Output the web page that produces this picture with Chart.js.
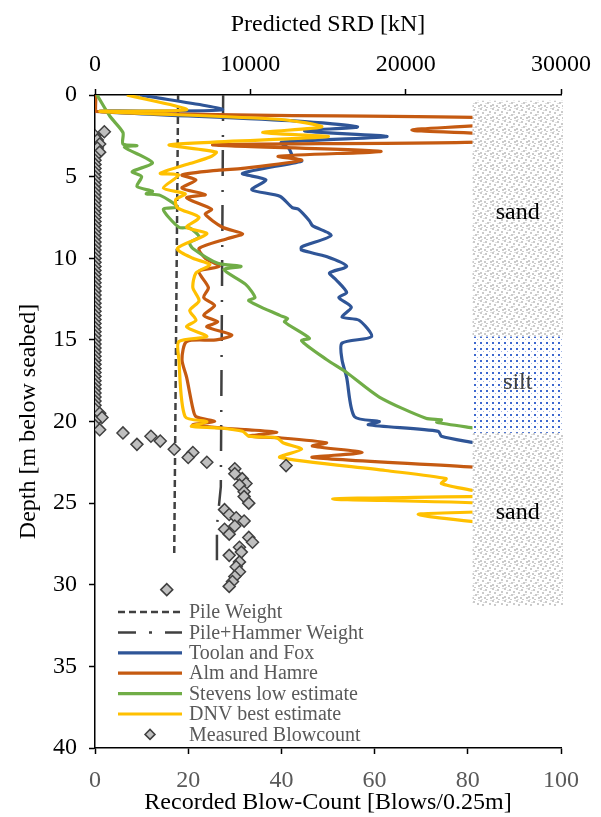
<!DOCTYPE html>
<html lang="en">
<head>
  <meta charset="UTF-8">
  <title>Predicted SRD and recorded blow-count</title>
  <script src="https://cdn.jsdelivr.net/npm/chart.js"></script>
  <style>
    html, body { margin: 0; padding: 0; background: #fff; }
  </style>
</head>
<body>
<canvas id="srdChart" width="601" height="817"></canvas>

<script>
  // Toolan and Fox
  const tfDepth = [0, 0.9, 1.0, 1.6, 1.95, 2.2, 2.55, 2.9, 3.3, 3.9, 4.05, 4.8, 5.2, 5.8, 6.2, 6.9, 7.0, 7.7, 8.0, 8.6,
    9.3, 9.5, 9.9, 10.5, 10.9, 11.3, 12.1, 12.4, 13.0, 13.6, 13.8, 14.8, 15.2, 16.2, 17.3, 19.7, 20.0, 20.2, 20.6, 20.9, 21.3, 21.6];
  const tfSRD = [2900, 8200, 320, 13000, 16900, 13500, 18800, 12000, 12500, 12800, 13300, 9500, 11000, 10100, 11900, 12700, 13100, 13800, 14000, 15200,
    13300, 13300, 14900, 16200, 15100, 15500, 16200, 15700, 16500, 15900, 17000, 17800, 15900, 15900, 16200, 16700, 18300, 17600, 22100, 22300, 24400, 26000];

  // Alm and Hamre
  const ahDepth = [0, 1.0, 1.4, 1.75, 2.15, 2.45, 2.85, 3.05, 3.45, 3.75, 4.0, 4.5, 4.6, 4.9, 5.2, 5.7, 6.1, 6.3, 7.0, 7.3,
    8.1, 8.5, 8.8, 9.4, 10.0, 10.5, 10.8, 11.8, 12.4, 12.9, 13.5, 13.9, 14.2, 14.7, 15.0, 15.1, 16.2, 17.3, 19.2, 19.7,
    20.0, 20.2, 20.4, 20.5, 20.65, 20.9, 21.0, 21.3, 21.5, 21.9, 22.2, 22.8, 23.0];
  const ahSRD = [60, 60, 26000, 26000, 20400, 26000, 26000, 7600, 18400, 11800, 13300, 9500, 8000, 5600, 6500, 5600, 7100, 5900, 7500, 7100,
    8200, 9500, 8500, 6700, 7100, 8000, 6700, 7300, 7000, 7700, 7000, 7900, 7200, 8800, 7800, 5900, 5600, 5900, 6300, 6500,
    7700, 6300, 8200, 9700, 11700, 9900, 11900, 14900, 14000, 17200, 14000, 24400, 26000];

  // Stevens low estimate
  const svDepth = [0, 1.3, 2.3, 3.0, 3.1, 3.2, 4.15, 4.7, 5.0, 5.6, 5.9, 6.05, 6.15, 6.85, 7.0, 8.1, 8.15, 8.7, 9.05, 9.4,
    10.3, 10.5, 10.7, 11.6, 12.4, 12.6, 13.5, 13.7, 13.9, 14.9, 15.05, 16.2, 17.0, 18.5, 19.8, 19.9, 20.05, 20.4, 20.6];
  const svSRD = [130, 960, 1800, 1800, 2700, 1900, 3700, 2400, 3000, 2700, 3700, 3300, 4200, 5300, 4400, 5400, 6100, 6700, 6100, 6300,
    7900, 9400, 8300, 9700, 10300, 9900, 11900, 12400, 12200, 13800, 13300, 14900, 16200, 18300, 21300, 22300, 22000, 24400, 26000];

  // DNV best estimate
  const dnvDepth = [0, 0.9, 1.0, 1.5, 1.95, 2.3, 2.55, 3.05, 3.5, 3.8, 4.2, 4.8, 4.9, 5.7, 6.05, 6.4, 6.9, 7.5, 8.1, 8.5,
    9.4, 10.0, 10.4, 10.9, 11.8, 12.6, 13.2, 13.8, 14.2, 14.8, 15.1, 16.2, 19.7, 20.0, 20.3, 20.4, 20.6, 20.9, 21.0, 21.3,
    21.7, 22.2, 23.0, 23.5, 23.8, 24.2, 24.45, 24.55, 24.75, 25.05, 25.45, 25.7, 26.35, 26.6];
  const dnvSRD = [2050, 5900, 320, 12000, 14600, 10800, 15000, 4800, 7800, 7400, 6100, 4200, 5400, 4400, 5800, 5200, 5300, 6700, 5900, 7200,
    5300, 6300, 7400, 6500, 6300, 6700, 6100, 6500, 5900, 7200, 5400, 5400, 5800, 7200, 6200, 8000, 9500, 9900, 11700, 12100,
    13300, 11900, 18700, 22600, 22300, 24200, 26000, 26000, 15300, 26000, 26000, 20800, 26000, 26000];

  // pile weight and pile + hammer weight
  const pwDepth = [0, 28.2];
  const pwSRD = [5350, 5100];
  const phDepth = [0, 24.0, 26.4, 28.5];
  const phSRD = [8250, 8100, 7850, 7850];

  // measured blow-count
  const mbDepth = [2.25, 2.5, 2.75, 3.0, 3.25, 3.5, 3.75, 4.0, 4.25, 4.5, 4.75, 5.0, 5.25, 5.5, 5.75, 6.0, 6.25, 6.5, 6.75, 7.0,
    7.25, 7.5, 7.75, 8.0, 8.25, 8.5, 8.75, 9.0, 9.25, 9.5, 9.75, 10.0, 10.25, 10.5, 10.75, 11.0, 11.25, 11.5, 11.75, 12.0,
    12.25, 12.5, 12.75, 13.0, 13.25, 13.5, 13.75, 14.0, 14.25, 14.5, 14.75, 15.0, 15.25, 15.5, 15.75, 16.0, 16.25, 16.5, 16.75, 17.0,
    17.25, 17.5, 17.75, 18.0, 18.25, 18.5, 18.75, 19.0, 19.25, 19.5, 19.75, 20.0, 20.25, 20.5,
    20.7, 20.9, 21.2, 21.4, 21.7, 21.9, 22.2, 22.5, 22.7, 22.9, 23.2, 23.5, 23.8, 23.9, 24.3, 24.6, 25.0, 25.4, 25.7, 25.9,
    26.1, 26.4, 26.6, 26.9, 27.1, 27.4, 27.7, 28.0, 28.2, 28.6, 28.9, 29.2, 29.5, 29.8, 30.1, 30.3];
  const mbCount = [2.0, 0, 0.5, 1.0, 0.5, 1.0, 0, 0, 0, 0, 0, 0, 0, 0, 0, 0, 0, 0, 0, 0,
    0, 0, 0, 0, 0, 0, 0, 0, 0, 0, 0, 0, 0, 0, 0, 0, 0, 0, 0, 0,
    0, 0, 0, 0, 0, 0, 0, 0, 0, 0, 0, 0, 0, 0, 0, 0, 0, 0, 0, 0,
    0, 0, 0, 0, 0, 0, 0, 0, 0, 1.0, 1.5, 0, 0, 1.0,
    6, 12, 14, 9, 17, 21, 20, 24, 41, 30, 30, 31.6, 32.4, 31, 32, 32, 33, 27.8, 28.8, 30.3,
    32, 30, 27.8, 28.8, 33, 33.8, 31, 31.4, 28.8, 31, 30.3, 31, 30, 29.5, 28.8, 15.4];

  // soil column
  const soilNames = ['sand', 'silt', 'sand'];
  const soilTop = [0.35, 14.8, 20.7];
  const soilBottom = [14.8, 20.7, 31.3];
  const soilLabelDepth = [7.2, 17.6, 25.6];
  const soilFrom = 24300, soilTo = 30000;

  const legendLabels = ['Pile Weight', 'Pile+Hammer Weight', 'Toolan and Fox', 'Alm and Hamre',
    'Stevens low estimate', 'DNV best estimate', 'Measured Blowcount'];

  const serif = '"Liberation Serif", "Times New Roman", serif';
  const pts = (xs, ys) => xs.map((v, i) => ({ x: v, y: ys[i] }));

  function makePattern(kind) {
    const c = document.createElement('canvas');
    const g = c.getContext('2d');
    if (kind === 'sand') {
      c.width = 12; c.height = 12;
      g.fillStyle = '#fff'; g.fillRect(0, 0, 12, 12);
      g.fillStyle = '#cbcbcb';
      [[0, 0], [5, 1], [9, 3], [2, 4], [7, 6], [0, 8], [4, 9], [10, 9], [6, 11]].forEach(p => g.fillRect(p[0], p[1], 2, 2));
      g.fillStyle = '#e0e0e0';
      [[3, 2], [10, 0], [5, 7], [1, 11], [9, 6]].forEach(p => g.fillRect(p[0], p[1], 2, 1));
    } else {
      c.width = 6; c.height = 6;
      g.fillStyle = '#fff'; g.fillRect(0, 0, 6, 6);
      g.fillStyle = '#3d68cf'; g.fillRect(0, 0, 2, 2);
      g.fillStyle = '#9fb5e6'; g.fillRect(3, 3, 1, 1);
    }
    return c;
  }

  const soilPlugin = {
    id: 'soilColumn',
    afterDatasetsDraw(chart) {
      const { ctx, scales } = chart;
      const x2 = scales.x2, y = scales.y;
      const left = x2.getPixelForValue(soilFrom), right = x2.getPixelForValue(soilTo) + 2;
      ctx.save();
      soilNames.forEach((name, i) => {
        const top = y.getPixelForValue(soilTop[i]);
        const bot = y.getPixelForValue(soilBottom[i]);
        ctx.fillStyle = ctx.createPattern(makePattern(name), 'repeat');
        ctx.fillRect(left, top, right - left, bot - top);
      });
      ctx.font = '24px ' + serif;
      ctx.textAlign = 'center';
      ctx.textBaseline = 'middle';
      soilNames.forEach((name, i) => {
        ctx.fillStyle = name === 'silt' ? '#404040' : '#000';
        ctx.fillText(name, (left + right) / 2, y.getPixelForValue(soilLabelDepth[i]));
      });
      ctx.restore();
    }
  };

  const legendPlugin = {
    id: 'insideLegend',
    afterDraw(chart) {
      const { ctx, chartArea } = chart;
      const x0 = chartArea.left + 23, x1 = x0 + 64, tx = x1 + 7;
      const y0 = chartArea.bottom - 136;
      ctx.save();
      ctx.font = '20px ' + serif;
      ctx.textBaseline = 'middle';
      legendLabels.forEach((label, i) => {
        const ds = chart.data.datasets.find(d => d.label === label);
        const yy = y0 + i * 20.4;
        if (ds.showLine) {
          ctx.strokeStyle = ds.borderColor;
          ctx.lineWidth = ds.borderWidth;
          ctx.setLineDash(label === 'Pile+Hammer Weight' ? [18, 13, 3, 13] : (ds.borderDash || []));
          ctx.beginPath();
          ctx.moveTo(x0, yy);
          ctx.lineTo(x1, yy);
          ctx.stroke();
        } else {
          ctx.setLineDash([]);
          const cx = (x0 + x1) / 2, r = 5;
          ctx.beginPath();
          ctx.moveTo(cx, yy - r); ctx.lineTo(cx + r, yy); ctx.lineTo(cx, yy + r); ctx.lineTo(cx - r, yy); ctx.closePath();
          ctx.fillStyle = ds.backgroundColor; ctx.fill();
          ctx.strokeStyle = ds.borderColor; ctx.lineWidth = ds.borderWidth; ctx.stroke();
        }
        ctx.fillStyle = '#595959';
        ctx.fillText(label, tx, yy + 1);
      });
      ctx.restore();
    }
  };

  const srdLine = (label, color, xs, ys) => ({
    label, data: pts(ys, xs), xAxisID: 'x2', yAxisID: 'y',
    showLine: true, borderColor: color, borderWidth: 3.2, pointRadius: 0, tension: 0.25, fill: false
  });

  const datasets = [
    {
      label: 'Measured Blowcount', data: pts(mbCount, mbDepth), xAxisID: 'x', yAxisID: 'y',
      showLine: false, pointStyle: 'rectRot', pointRadius: 6, backgroundColor: '#bfbfbf',
      borderColor: '#404040', borderWidth: 1.5
    },
    srdLine('DNV best estimate', '#FFC000', dnvDepth, dnvSRD),
    srdLine('Stevens low estimate', '#70AD47', svDepth, svSRD),
    srdLine('Alm and Hamre', '#C55A11', ahDepth, ahSRD),
    srdLine('Toolan and Fox', '#2F5597', tfDepth, tfSRD),
    Object.assign(srdLine('Pile+Hammer Weight', '#404040', phDepth, phSRD), { borderWidth: 2.5, borderDash: [26, 14, 2, 13], tension: 0 }),
    Object.assign(srdLine('Pile Weight', '#404040', pwDepth, pwSRD), { borderWidth: 2.5, borderDash: [7, 4], tension: 0 })
  ];

  const axisGrid = { drawOnChartArea: false, color: '#000', tickLength: 6, tickWidth: 1.5 };
  const axisBorder = { color: '#000', width: 1.5 };

  new Chart(document.getElementById('srdChart').getContext('2d'), {
    type: 'scatter',
    data: { datasets },
    options: {
      responsive: false,
      animation: false,
      devicePixelRatio: 1,
      layout: { padding: { right: 38 } },
      plugins: { legend: { display: false }, tooltip: { enabled: false } },
      scales: {
        x: {
          type: 'linear', position: 'bottom', min: 0, max: 100,
          ticks: { stepSize: 20, color: '#595959', font: { family: serif, size: 24 }, padding: 12, callback: v => String(v) },
          grid: axisGrid, border: axisBorder,
          title: { display: true, text: 'Recorded Blow-Count [Blows/0.25m]', color: '#000', font: { family: serif, size: 24 }, padding: { top: 0, bottom: 0 } },
          afterFit(s) { s.height = 69; }
        },
        x2: {
          type: 'linear', position: 'top', min: 0, max: 30000,
          ticks: { stepSize: 10000, color: '#000', font: { family: serif, size: 24 }, padding: 10, callback: v => String(v) },
          grid: axisGrid, border: axisBorder,
          title: { display: true, text: 'Predicted SRD [kN]', color: '#000', font: { family: serif, size: 24 }, padding: { top: 10, bottom: 0 } },
          afterFit(s) { s.height = 95; }
        },
        y: {
          type: 'linear', position: 'left', reverse: true, min: 0, max: 40,
          ticks: { stepSize: 5, color: '#000', font: { family: serif, size: 24 }, padding: 12 },
          grid: axisGrid, border: axisBorder,
          title: { display: true, text: 'Depth [m below seabed]', color: '#000', font: { family: serif, size: 24 }, padding: { top: 14, bottom: 0 } },
          afterFit(s) { s.width = 95; }
        }
      }
    },
    plugins: [soilPlugin, legendPlugin]
  });
</script>
</body>
</html>
